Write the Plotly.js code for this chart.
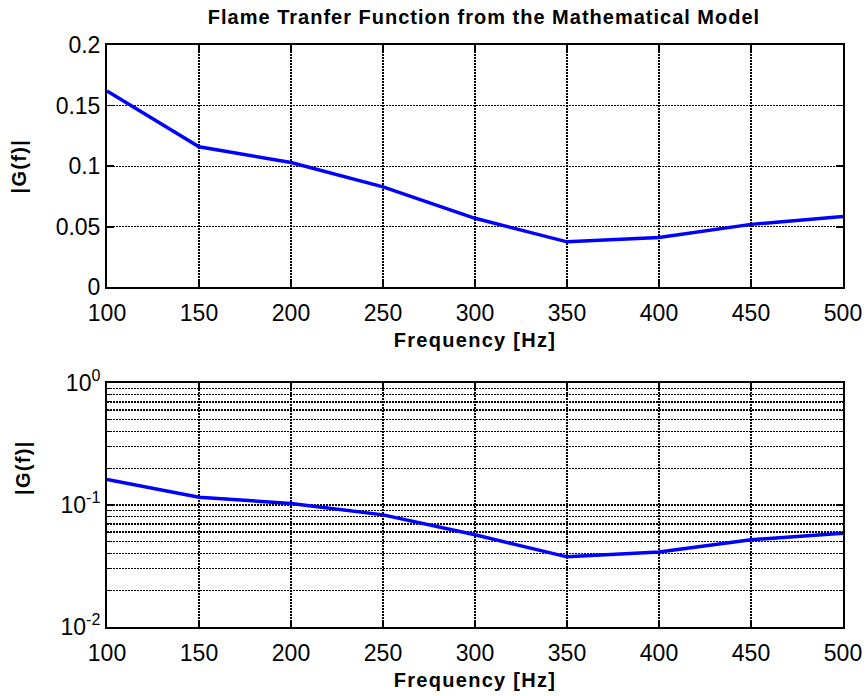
<!DOCTYPE html>
<html>
<head>
<meta charset="utf-8">
<script src="https://cdn.plot.ly/plotly-3.0.1.min.js"></script>
<style>
  html, body { margin: 0; padding: 0; background: #fff; }
  #chart { width: 868px; height: 696px; }
  .gtitle { letter-spacing: 1.0px; }
  .xtitle, .ytitle, .x2title, .y2title, .annotation-text { letter-spacing: 1.3px; }
</style>
</head>
<body>
<div id="chart"></div>
<script>
// Data
const frequency = [100, 150, 200, 250, 300, 350, 400, 450, 500];
const gainMagnitude = [0.162, 0.116, 0.103, 0.083, 0.057, 0.0376, 0.0412, 0.052, 0.0586];

const linTickVals = [0, 0.05, 0.1, 0.15, 0.2];
const linTickText = ['0', '0.05', '0.1', '0.15', '0.2'];
const logTickVals = [0.01, 0.1, 1];
const logTickText = ['10<sup>-2</sup>', '10<sup>-1</sup>', '10<sup>0</sup>'];
const logMinorVals = [0.02,0.03,0.04,0.05,0.06,0.07,0.08,0.09,0.2,0.3,0.4,0.5,0.6,0.7,0.8,0.9];
const xTickVals = [100, 150, 200, 250, 300, 350, 400, 450, 500];

const titleText = 'Flame Tranfer Function from the Mathematical Model';
const xTitle = 'Frequency [Hz]';
const yTitle = '|G(f)|';

const FONT = 'Liberation Sans, Arial, Helvetica, sans-serif';
const tickFont = {family: FONT, size: 23, color: '#000'};
const labFont = {family: FONT, size: 20, color: '#000', weight: 'bold'};
const griddash = '1.5px,1.5px';
const gridW = 1.3;

const line = {color: '#0000FF', width: 3.5};

const traces = [
  {x: frequency, y: gainMagnitude, type: 'scatter', mode: 'lines', line: line, xaxis: 'x', yaxis: 'y', hoverinfo: 'none'},
  {x: frequency, y: gainMagnitude, type: 'scatter', mode: 'lines', line: line, xaxis: 'x2', yaxis: 'y2', hoverinfo: 'none'}
];

function xAxis(domainAnchor) {
  return {
    anchor: domainAnchor, domain: [0, 1], range: [100, 500],
    tickmode: 'array', tickvals: xTickVals,
    ticks: 'inside', ticklen: 7, tickwidth: 1.5, tickcolor: '#000',
    showline: true, linecolor: '#000', linewidth: 2, mirror: 'ticks',
    showgrid: true, gridcolor: '#000', gridwidth: gridW, griddash: griddash,
    zeroline: false, tickfont: tickFont, ticklabelstandoff: 4,
    title: {text: xTitle, font: labFont, standoff: 8}
  };
}

const layout = {
  width: 868, height: 696,
  margin: {l: 107, r: 25, t: 45, b: 69},
  paper_bgcolor: '#fff', plot_bgcolor: '#fff',
  showlegend: false,
  title: {text: titleText, font: {family: FONT, size: 20, color: '#000', weight: 'bold'},
          x: 484 / 868, xref: 'container', xanchor: 'center', y: 1 - 17/696, yref: 'container', yanchor: 'middle'},
  xaxis: xAxis('y'),
  xaxis2: xAxis('y2'),
  yaxis: {
    anchor: 'x', domain: [0.5835, 1], range: [0, 0.2],
    tickmode: 'array', tickvals: linTickVals, ticktext: linTickText,
    ticks: 'inside', ticklen: 7, tickwidth: 1.5, tickcolor: '#000',
    showline: true, linecolor: '#000', linewidth: 2, mirror: 'ticks',
    showgrid: true, gridcolor: '#000', gridwidth: gridW, griddash: griddash,
    zeroline: false, tickfont: tickFont,
    title: {text: yTitle, font: labFont, standoff: 24}
  },
  yaxis2: {
    anchor: 'x2', domain: [0, 0.4192], type: 'log', range: [-2, 0],
    tickmode: 'array', tickvals: logTickVals, ticktext: logTickText,
    ticks: 'inside', ticklen: 7, tickwidth: 1.5, tickcolor: '#000',
    showline: true, linecolor: '#000', linewidth: 2, mirror: 'ticks',
    showgrid: true, gridcolor: '#000', gridwidth: gridW, griddash: griddash,
    minor: {tickmode: 'array', tickvals: logMinorVals, ticks: 'inside', ticklen: 4,
            tickcolor: '#000', tickwidth: 1, showgrid: true, gridcolor: '#000', gridwidth: gridW, griddash: griddash},
    zeroline: false, tickfont: tickFont
  },
  annotations: [{
    text: yTitle, xref: 'paper', yref: 'paper', x: -84 / 736, y: (627 - 468) / 582,
    xanchor: 'center', yanchor: 'middle', textangle: -90, showarrow: false, font: labFont
  }]
};

Plotly.newPlot('chart', traces, layout, {staticPlot: true, displayModeBar: false});
</script>
</body>
</html>
